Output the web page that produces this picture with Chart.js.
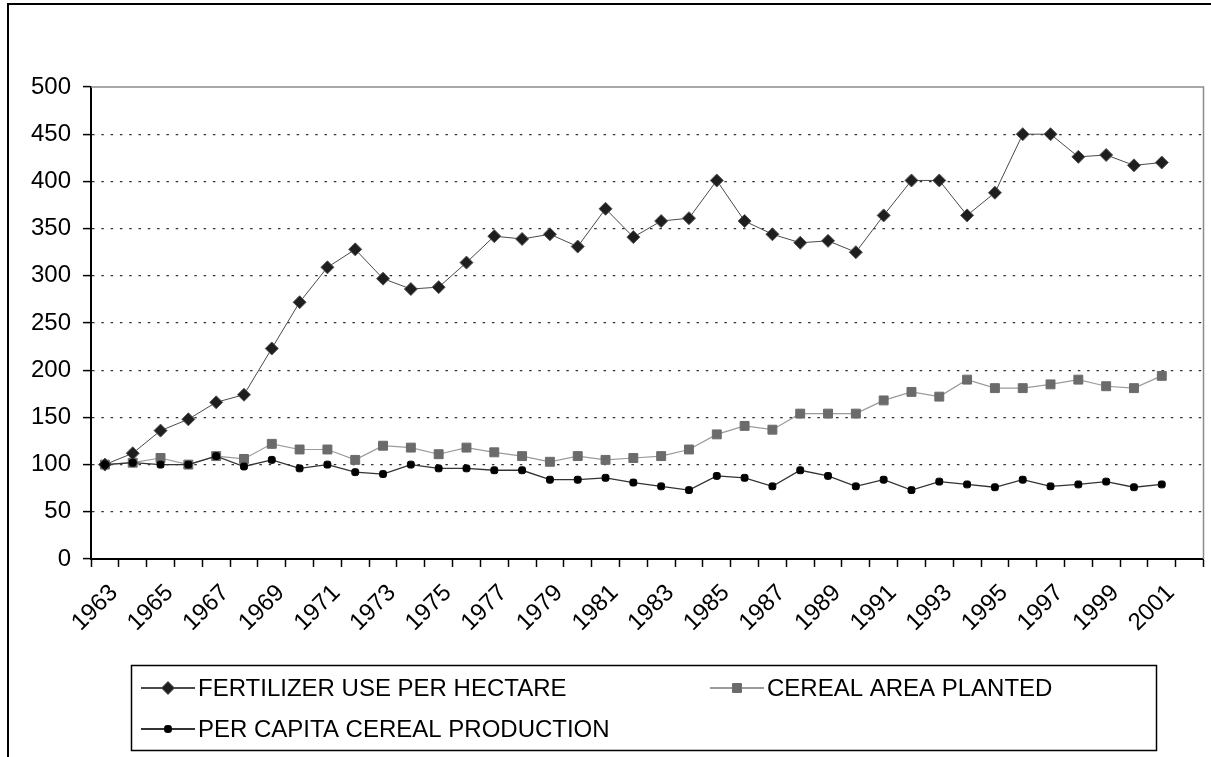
<!DOCTYPE html>
<html>
<head>
<meta charset="utf-8">
<script src="https://cdn.jsdelivr.net/npm/chart.js@4.4.1/dist/chart.umd.min.js"></script>
<style>
  html, body { margin: 0; padding: 0; background: #fff; overflow: hidden; }
  #wrap { position: relative; width: 1211px; height: 757px; }
  #frame { position: absolute; left: 7px; top: 3px; width: 1300px; height: 900px; border: 2px solid #000; pointer-events: none; }
  canvas { position: absolute; left: 0; top: 0; }
</style>
</head>
<body>
<div id="wrap">
  <canvas id="myChart" width="1211" height="757"></canvas>
  <div id="frame"></div>
</div>
<script>
// years on the x axis (2002 is an empty slot at the end)
const years = ['1963','1964','1965','1966','1967','1968','1969','1970','1971','1972',
  '1973','1974','1975','1976','1977','1978','1979','1980','1981','1982',
  '1983','1984','1985','1986','1987','1988','1989','1990','1991','1992',
  '1993','1994','1995','1996','1997','1998','1999','2000','2001','2002'];

// index, 1963 = 100
const fertilizerUse = [100,112,136,148,166,174,223,272,309,328,297,286,288,314,342,339,344,331,371,341,
  358,361,401,358,344,335,337,325,364,401,401,364,388,450,450,426,428,417,420];
const cerealArea = [100,102,107,100,109,106,122,116,116,105,120,118,111,118,113,109,103,109,105,107,
  109,116,132,141,137,154,154,154,168,177,172,190,181,181,185,190,183,181,194];
const perCapitaCereal = [100,102,100,100,109,98,105,96,100,92,90,100,96,96,94,94,84,84,86,81,
  77,73,88,86,77,94,88,77,84,73,82,79,76,84,77,79,82,76,79];

const yMax = 500;
const yStep = 50;

const FONT = '"Liberation Sans", Arial, sans-serif';

// grey frame on top and right of the plot area
const plotFrame = {
  id: 'plotFrame',
  beforeDatasetsDraw(chart) {
    const a = chart.chartArea;
    const ctx = chart.ctx;
    ctx.save();
    ctx.strokeStyle = '#8c8c8c';
    ctx.lineWidth = 1.5;
    ctx.beginPath();
    ctx.moveTo(a.left, a.top);
    ctx.lineTo(a.right, a.top);
    ctx.lineTo(a.right, a.bottom);
    ctx.stroke();
    ctx.restore();
  }
};

// excel style legend: box, line with marker, label
const legendBox = {
  id: 'legendBox',
  afterDraw(chart) {
    const ctx = chart.ctx;
    ctx.save();
    ctx.strokeStyle = '#000';
    ctx.lineWidth = 1.5;
    ctx.strokeRect(131.5, 665.5, 1025, 85);
    ctx.font = '24px ' + FONT;
    ctx.textBaseline = 'middle';
    const slots = [[141, 688], [710, 688], [141, 729]];
    chart.data.datasets.forEach((ds, i) => {
      const [x, y] = slots[i];
      ctx.strokeStyle = ds.borderColor;
      ctx.lineWidth = 1.8;
      ctx.beginPath();
      ctx.moveTo(x, y);
      ctx.lineTo(x + 54, y);
      ctx.stroke();
      ctx.fillStyle = ds.pointBackgroundColor;
      ctx.strokeStyle = ds.pointBorderColor;
      ctx.lineWidth = 1;
      Chart.helpers.drawPoint(ctx, { pointStyle: ds.pointStyle, radius: ds.pointRadius, borderWidth: 1, rotation: 0 }, x + 27, y);
      ctx.fillStyle = '#000';
      ctx.fillText(ds.label, x + 57, y + 1);
    });
    ctx.restore();
  }
};

new Chart(document.getElementById('myChart'), {
  type: 'line',
  data: {
    labels: years,
    datasets: [
      {
        label: 'FERTILIZER USE PER HECTARE',
        data: fertilizerUse,
        borderColor: '#4a4a4a',
        borderWidth: 1,
        pointStyle: 'rectRot',
        pointRadius: 6.5,
        pointBackgroundColor: '#1e1e1e',
        pointBorderColor: '#555',
        pointBorderWidth: 1,
        order: 1
      },
      {
        label: 'CEREAL AREA PLANTED',
        data: cerealArea,
        borderColor: '#9a9a9a',
        borderWidth: 1.2,
        pointStyle: 'rect',
        pointRadius: 6.3,
        pointBackgroundColor: '#6b6b6b',
        pointBorderColor: '#6b6b6b',
        pointBorderWidth: 1,
        order: 2
      },
      {
        label: 'PER CAPITA CEREAL PRODUCTION',
        data: perCapitaCereal,
        borderColor: '#333',
        borderWidth: 1.3,
        pointStyle: 'rectRounded',
        pointRadius: 4,
        pointBackgroundColor: '#000',
        pointBorderColor: '#000',
        pointBorderWidth: 1,
        order: 0
      }
    ]
  },
  options: {
    responsive: false,
    animation: false,
    layout: { padding: { top: 87, right: 2, bottom: 98, left: 0 } },
    scales: {
      x: {
        type: 'category',
        offset: true,
        grid: {
          offset: true,
          drawOnChartArea: false,
          drawTicks: true,
          tickLength: 8,
          tickColor: '#000',
          tickWidth: 1.5
        },
        border: { color: '#000', width: 2 },
        ticks: {
          autoSkip: false,
          minRotation: 45,
          maxRotation: 45,
          padding: 12,
          labelOffset: 9,
          color: '#000',
          font: { family: FONT, size: 24 },
          callback: (val, i) => (i % 2 === 0 ? years[i] : '')
        },
        afterFit: scale => {
          scale.height = 100;
          scale.paddingLeft = 0;
          scale.paddingRight = 0;
        }
      },
      y: {
        min: 0,
        max: yMax,
        grid: {
          color: ctx => (ctx.tick && (ctx.tick.value === 0 || ctx.tick.value === yMax) ? 'rgba(0,0,0,0)' : '#333'),
          lineWidth: 1.2,
          drawTicks: true,
          tickLength: 8,
          tickColor: '#000',
          tickWidth: 1.5,
          tickBorderDash: []
        },
        border: { color: '#000', width: 2, dash: [2.5, 6.8] },
        ticks: {
          stepSize: yStep,
          padding: 12,
          color: '#000',
          font: { family: FONT, size: 24 }
        },
        afterFit: scale => { scale.width = 91; }
      }
    },
    plugins: {
      legend: { display: false },
      tooltip: { enabled: false }
    }
  },
  plugins: [plotFrame, legendBox]
});
</script>
</body>
</html>
